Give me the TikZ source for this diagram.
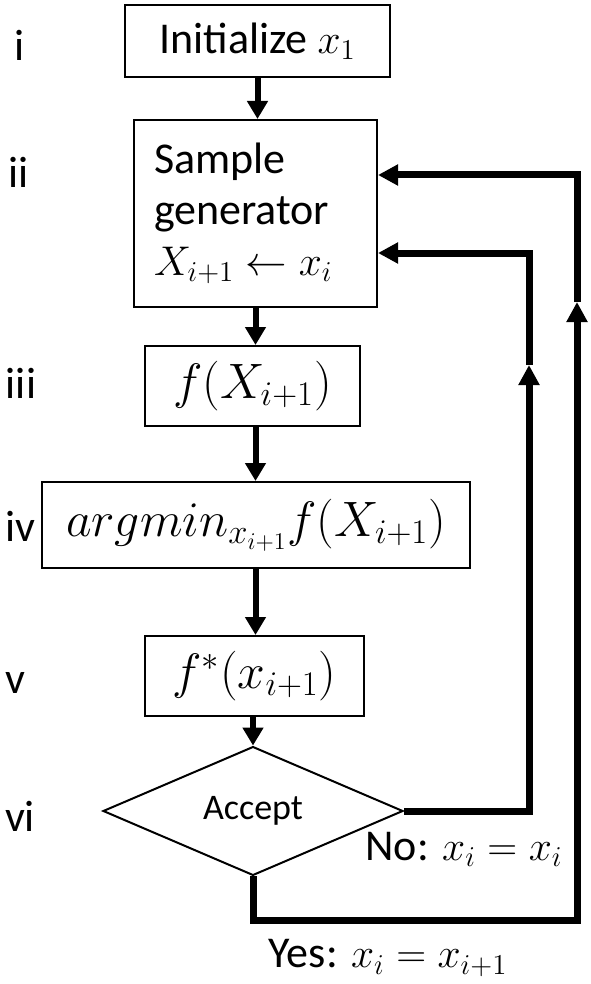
\documentclass[tikz,border=0pt]{standalone}
\usepackage{amsmath}
\usepackage{fontspec}
\setmainfont{Carlito}
\usetikzlibrary{arrows.meta, positioning, shapes.geometric}

\tikzset{
  stepbox/.style={draw, line width=1pt, inner sep=0pt, font=\fontsize{22}{25.5}\selectfont},
  mathbox/.style={stepbox, font=\fontsize{25.5}{28}\selectfont},
  steplabel/.style={font=\fontsize{22}{26}\selectfont},
  flow/.style={line width=3pt, -{Triangle[length=9pt, width=10pt]}},
  loopback/.style={line width=3.5pt, -{Triangle[length=10pt, width=10pt]}},
}

\begin{document}
\begin{tikzpicture}[x=0.5pt, y=-0.5pt]
  \useasboundingbox (0,0) rectangle (590,984);

  \node[stepbox, minimum width=132.5pt, minimum height=36pt] (init) at (257.5,41) {Initialize $x_1$};
  \node[stepbox, minimum width=121.5pt, minimum height=93.5pt, text width=101.5pt, align=left] (gen) at (255.5,213.5) {Sample\\generator\\$X_{i+1} \leftarrow x_i$};
  \node[mathbox, minimum width=107.5pt, minimum height=40pt] (eval) at (252.5,386) {$f(X_{i+1})$};
  \node[mathbox, minimum width=214pt, minimum height=43pt] (best) at (256,525) {$argmin_{x_{i+1}}f(X_{i+1})$};
  \node[mathbox, minimum width=109.5pt, minimum height=40pt] (fstar) at (254.5,676) {$f^*(x_{i+1})$};
  \node[draw, diamond, line width=1pt, inner sep=0pt, minimum width=150pt, minimum height=59pt, font=\fontsize{18}{22}\selectfont] (accept) at (253,811) {Accept};

  \foreach \lab/\x/\y in {i/20/45, ii/19/172, iii/21/383, iv/20/526, v/15/683, vi/20/816}
    \node[steplabel] (lab-\lab) at (\x,\y) {\lab};

  \node[steplabel] (nolab) at (464,849) {No: $x_i = x_i$};
  \node[steplabel] (yeslab) at (388,958) {Yes: $x_i = x_{i+1}$};

  \draw[flow] (init.south) -- (init.south |- gen.north);
  \draw[flow] (gen.south) -- (gen.south |- eval.north);
  \draw[flow] (gen.south |- eval.south) -- (gen.south |- best.north);
  \draw[flow] (gen.south |- best.south) -- (gen.south |- fstar.north);
  \draw[flow] (accept.north |- fstar.south) -- (accept.north);

  \coordinate (nomid) at (529,365);
  \coordinate (noturn) at (529,253);
  \coordinate (yesbot) at (577,920);
  \coordinate (yesmid) at (577,302);
  \coordinate (yesturn) at (577,175);

  \draw[loopback] (accept.east) -| (nomid);
  \draw[loopback] (nomid) -- (noturn) -- (gen.east |- noturn);
  \draw[loopback] (accept.south) |- (yesbot) -- (yesmid);
  \draw[loopback] (yesmid) -- (yesturn) -- (gen.east |- yesturn);
\end{tikzpicture}
\end{document}
